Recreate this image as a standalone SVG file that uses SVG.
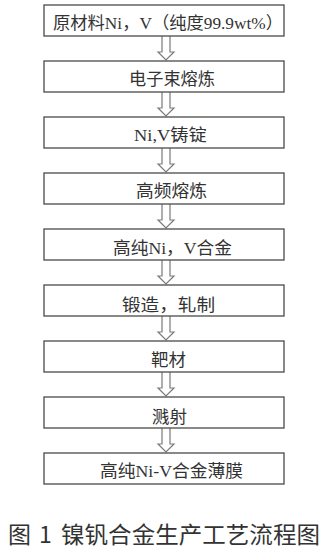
<svg xmlns="http://www.w3.org/2000/svg" xmlns:xlink="http://www.w3.org/1999/xlink" width="333" height="558" viewBox="0 0 333 558">
<style>
.box{fill:#fff;stroke:#4a4a4a;stroke-width:1.3}
.t{font-family:"Liberation Serif","Noto Sans CJK SC",serif;font-size:17px;fill:#333}
.arr{fill:#fff;stroke:#7a7a7a;stroke-width:1.2;stroke-linejoin:miter}
.cap{font-family:"Noto Sans CJK SC","Liberation Sans",sans-serif;font-size:23px;fill:#333}
</style>
<defs>
<path id="arrow" class="arr" d="M162,0 V16 H158 L166,24 L174,16 H170 V0"/>
</defs>
<rect width="333" height="558" fill="#fff"/>
<g id="connectors">
<use xlink:href="#arrow" transform="translate(0,36)"/>
<use xlink:href="#arrow" transform="translate(0,92)"/>
<use xlink:href="#arrow" transform="translate(0,148)"/>
<use xlink:href="#arrow" transform="translate(0,204)"/>
<use xlink:href="#arrow" transform="translate(0,260)"/>
<use xlink:href="#arrow" transform="translate(0,316)"/>
<use xlink:href="#arrow" transform="translate(0,372)"/>
<use xlink:href="#arrow" transform="translate(0,428)"/>
</g>
<g id="n1"><rect class="box" x="44" y="5" width="240" height="31"/><text class="t" x="53" y="29" textLength="230" lengthAdjust="spacingAndGlyphs">原材料Ni，V（纯度99.9wt%）</text></g>
<g id="n2"><rect class="box" x="44" y="61" width="240" height="31"/><text class="t" x="129" y="85" textLength="86" lengthAdjust="spacingAndGlyphs">电子束熔炼</text></g>
<g id="n3"><rect class="box" x="44" y="117" width="240" height="31"/><text class="t" x="134" y="141" textLength="73" lengthAdjust="spacingAndGlyphs">Ni,V铸锭</text></g>
<g id="n4"><rect class="box" x="44" y="173" width="240" height="31"/><text class="t" x="136" y="197" textLength="71" lengthAdjust="spacingAndGlyphs">高频熔炼</text></g>
<g id="n5"><rect class="box" x="44" y="229" width="240" height="31"/><text class="t" x="113" y="254" textLength="119" lengthAdjust="spacingAndGlyphs">高纯Ni，V合金</text></g>
<g id="n6"><rect class="box" x="44" y="285" width="240" height="31"/><text class="t" x="122" y="311" textLength="93" lengthAdjust="spacingAndGlyphs">锻造，轧制</text></g>
<g id="n7"><rect class="box" x="44" y="341" width="240" height="31"/><text class="t" x="151" y="366" textLength="35" lengthAdjust="spacingAndGlyphs">靶材</text></g>
<g id="n8"><rect class="box" x="44" y="397" width="240" height="31"/><text class="t" x="152" y="423" textLength="35" lengthAdjust="spacingAndGlyphs">溅射</text></g>
<g id="n9"><rect class="box" x="44" y="453" width="240" height="31"/><text class="t" x="100" y="477" textLength="143" lengthAdjust="spacingAndGlyphs">高纯Ni-V合金薄膜</text></g>
<g id="caption"><text class="cap" y="543"><tspan x="8">图 </tspan><tspan x="39">1 </tspan><tspan x="61" textLength="259" lengthAdjust="spacingAndGlyphs">镍钒合金生产工艺流程图</tspan></text></g>
</svg>
